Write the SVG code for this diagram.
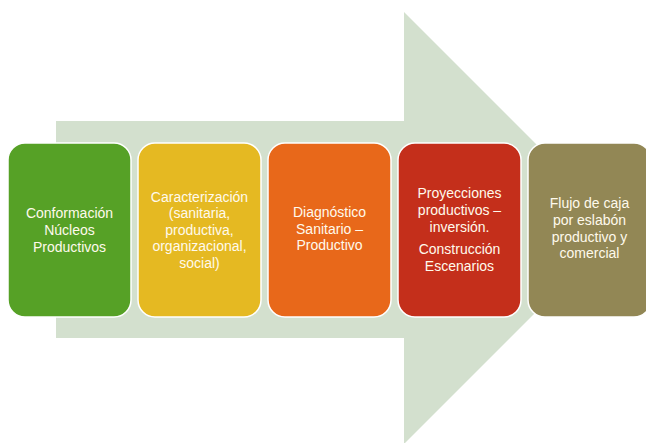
<svg xmlns="http://www.w3.org/2000/svg" width="646" height="443" viewBox="0 0 646 443">
<style>
.box{stroke:#ffffff;stroke-width:1.5}
.t{font-family:"Liberation Sans",Arial,sans-serif;font-size:14px;fill:#FFFAEC;text-anchor:middle}
</style>
<rect width="646" height="443" fill="#ffffff"/>
<g id="arrow">
<polygon points="56,121 404,121 404,12 620,228 404,444 404,338 56,338" fill="#D3E0CE"/>
</g>
<g id="n1">
<rect class="box" x="8" y="143" width="123" height="174" rx="17" fill="#56A126"/>
<text class="t" x="69.5" y="218">Conformación</text>
<text class="t" x="69.5" y="235">Núcleos</text>
<text class="t" x="69.5" y="252">Productivos</text>
</g>
<g id="n2">
<rect class="box" x="138" y="143" width="123" height="174" rx="17" fill="#E5B922"/>
<text class="t" x="199.5" y="202">Caracterización</text>
<text class="t" x="199.5" y="218">(sanitaria,</text>
<text class="t" x="199.5" y="235">productiva,</text>
<text class="t" x="199.5" y="251">organizacional,</text>
<text class="t" x="199.5" y="268">social)</text>
</g>
<g id="n3">
<rect class="box" x="268" y="143" width="123" height="174" rx="17" fill="#E8681A"/>
<text class="t" x="329.5" y="217">Diagnóstico</text>
<text class="t" x="329.5" y="234">Sanitario –</text>
<text class="t" x="329.5" y="250">Productivo</text>
</g>
<g id="n4">
<rect class="box" x="398" y="143" width="123" height="174" rx="17" fill="#C42F1B"/>
<text class="t" x="459.5" y="198">Proyecciones</text>
<text class="t" x="459.5" y="215">productivos –</text>
<text class="t" x="459.5" y="232">inversión.</text>
<text class="t" x="459.5" y="254">Construcción</text>
<text class="t" x="459.5" y="271">Escenarios</text>
</g>
<g id="n5">
<rect class="box" x="528" y="143" width="123" height="174" rx="17" fill="#928755"/>
<text class="t" x="589.5" y="208">Flujo de caja</text>
<text class="t" x="589.5" y="225">por eslabón</text>
<text class="t" x="589.5" y="242">productivo y</text>
<text class="t" x="589.5" y="258">comercial</text>
</g>
<g id="connectors"/>
</svg>
